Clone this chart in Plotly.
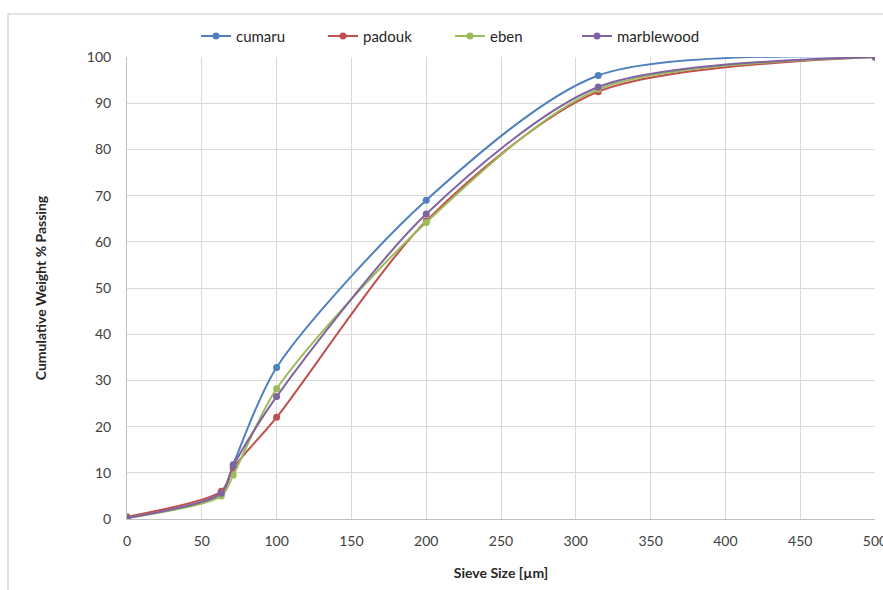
import plotly.graph_objects as go

# Sieve sizes (µm) and cumulative weight % passing for each wood powder
sieve_size = [0, 63, 71, 100, 200, 315, 500]
cumaru = [0.3, 5.5, 11.8, 32.8, 69.0, 96.0, 100.0]
padouk = [0.5, 6.0, 11.0, 22.0, 64.5, 92.5, 100.0]
eben = [0.2, 5.0, 9.5, 28.2, 64.2, 93.0, 100.0]
marblewood = [0.2, 5.6, 11.5, 26.5, 66.0, 93.5, 100.0]

series = [
    ("cumaru", cumaru, "#4F81BD"),
    ("padouk", padouk, "#C0504D"),
    ("eben", eben, "#9BBB59"),
    ("marblewood", marblewood, "#8064A2"),
]

x_ticks = [0, 50, 100, 150, 200, 250, 300, 350, 400, 450, 500]
y_ticks = [0, 10, 20, 30, 40, 50, 60, 70, 80, 90, 100]

fig = go.Figure()
for name, vals, color in series:
    fig.add_trace(go.Scatter(
        x=sieve_size, y=vals, name=name, mode="lines+markers",
        line=dict(color=color, width=2, shape="spline", smoothing=0.8),
        marker=dict(color=color, size=7, symbol="circle"),
    ))

font_family = "Lato, 'Open Sans', sans-serif"

fig.update_layout(
    width=883, height=590,
    margin=dict(l=127, r=8, t=57, b=71),
    paper_bgcolor="white", plot_bgcolor="white",
    font=dict(family=font_family, size=14, color="#404040"),
    showlegend=True,
    legend=dict(
        orientation="h", x=(196 - 127) / 748, xanchor="left", y=1.045, yanchor="middle",
        font=dict(size=15, color="#262626"),
        entrywidth=82, entrywidthmode="pixels",
        itemwidth=30,
    ),
    xaxis=dict(
        range=[0, 500], tickvals=x_ticks, ticktext=[str(v) for v in x_ticks],
        showgrid=True, gridcolor="#D9D9D9", gridwidth=1,
        zeroline=False, showline=True, linecolor="#BFBFBF",
        ticks="outside", ticklen=9, tickcolor="rgba(0,0,0,0)",
        ticklabeloverflow="allow",
        tickfont=dict(size=14, color="#404040"),
        title=dict(text="<b>Sieve Size [µm]</b>", font=dict(size=14, color="#262626"), standoff=20),
        automargin=False,
    ),
    yaxis=dict(
        range=[0, 100], tickvals=y_ticks, ticktext=[str(v) for v in y_ticks],
        showgrid=True, gridcolor="#D9D9D9", gridwidth=1,
        zeroline=False, showline=True, linecolor="#BFBFBF",
        ticks="outside", ticklen=12, tickcolor="rgba(0,0,0,0)",
        ticklabeloverflow="allow",
        tickfont=dict(size=14, color="#404040"),
        title=dict(text="<b>Cumulative Weight % Passing</b>", font=dict(size=14, color="#262626"), standoff=36),
        automargin=False,
    ),
    shapes=[dict(
        type="rect", xref="paper", yref="paper",
        x0=-119 / 748, x1=1.2, y0=-0.3, y1=(519 - 14) / 462,
        line=dict(color="#D9D9D9", width=1.5), fillcolor="rgba(0,0,0,0)", layer="below",
    )],
)

fig.write_html("out.html")
